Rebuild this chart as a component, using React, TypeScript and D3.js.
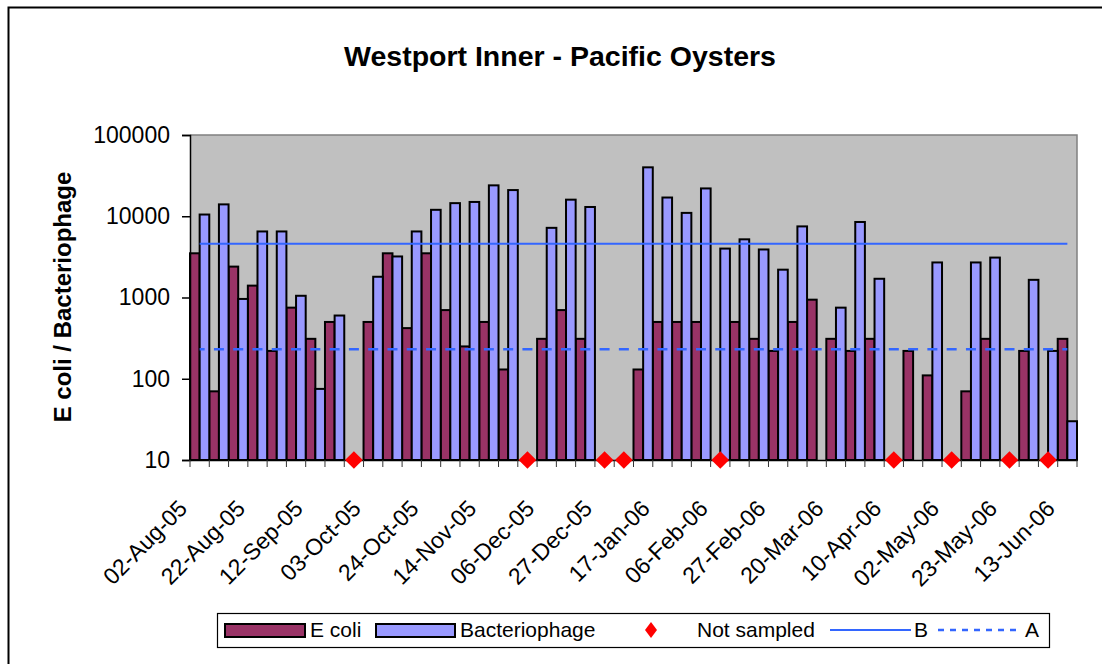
import React, { useEffect, useRef } from 'react';
import * as d3 from 'd3';

const dates = [
  '02-Aug-05', '08-Aug-05', '15-Aug-05', '22-Aug-05', '29-Aug-05', '05-Sep-05', '12-Sep-05', '19-Sep-05',
  '26-Sep-05', '03-Oct-05', '10-Oct-05', '17-Oct-05', '24-Oct-05', '31-Oct-05', '07-Nov-05', '14-Nov-05',
  '21-Nov-05', '28-Nov-05', '06-Dec-05', '13-Dec-05', '20-Dec-05', '27-Dec-05', '03-Jan-06', '10-Jan-06',
  '17-Jan-06', '24-Jan-06', '31-Jan-06', '06-Feb-06', '13-Feb-06', '20-Feb-06', '27-Feb-06', '06-Mar-06',
  '13-Mar-06', '20-Mar-06', '27-Mar-06', '03-Apr-06', '10-Apr-06', '18-Apr-06', '25-Apr-06', '02-May-06',
  '09-May-06', '16-May-06', '23-May-06', '30-May-06', '06-Jun-06', '13-Jun-06'
];

// null = no value
const eColi = [
  3500, 70, 2400, 1400, 220, 750, 310, 500, null, 500, 3500, 420, 3500, 700, 250, 500,
  130, null, 310, 700, 310, null, null, 130, 500, 500, 500, null, 500, 310, 220, 500,
  940, 310, 220, 310, null, 220, 110, null, 70, 310, null, 220, null, 310
];
const bacteriophage = [
  10500, 14000, 960, 6500, 6500, 1050, 75, 600, null, 1800, 3200, 6500, 12000, 14500, 15000, 24000,
  21000, null, 7200, 16000, 13000, null, null, 40000, 17000, 11000, 22000, 4000, 5200, 3900, 2200, 7500,
  null, 750, 8500, 1700, null, null, 2700, null, 2700, 3100, null, 1650, 220, 30
];
const notSampled = [
  '26-Sep-05', '28-Nov-05', '27-Dec-05', '03-Jan-06', '06-Feb-06', '10-Apr-06', '02-May-06', '23-May-06', '06-Jun-06'
];
const limitB = 4600;
const limitA = 230;
const yTicks = [10, 100, 1000, 10000, 100000];

const FONT = '"Liberation Sans", Arial, sans-serif';

const App = () => {
  const svgRef = useRef<SVGSVGElement>(null);
  const totalWidth = 1102;
  const totalHeight = 664;
  const plot = { left: 190, top: 135, right: 1077, bottom: 460 };

  useEffect(() => {
    const svg = d3.select(svgRef.current);
    svg.selectAll('*').remove();

    // outer chart border (runs off the right/bottom edge)
    svg.append('path')
      .attr('d', `M8.5,${totalHeight + 5} L8.5,7.5 L${totalWidth + 5},7.5`)
      .attr('fill', 'none')
      .attr('stroke', '#000')
      .attr('stroke-width', 2);

    svg.append('text')
      .attr('x', 560)
      .attr('y', 66)
      .attr('text-anchor', 'middle')
      .style('font-family', FONT)
      .style('font-weight', 'bold')
      .style('font-size', '28.5px')
      .text('Westport Inner - Pacific Oysters');

    const x = d3.scaleBand()
      .domain(dates)
      .range([plot.left, plot.right])
      .padding(0);
    const half = x.bandwidth() / 2;

    const y = d3.scaleLog()
      .domain([10, 100000])
      .range([plot.bottom, plot.top]);

    // plot area
    svg.append('rect')
      .attr('x', plot.left)
      .attr('y', plot.top)
      .attr('width', plot.right - plot.left)
      .attr('height', plot.bottom - plot.top)
      .attr('fill', '#c0c0c0');
    svg.append('path')
      .attr('d', `M${plot.left},${plot.top} L${plot.right},${plot.top} L${plot.right},${plot.bottom}`)
      .attr('fill', 'none')
      .attr('stroke', '#808080')
      .attr('stroke-width', 1.5);

    // bars
    const barData = dates.map((d, i) => ({ date: d, ecoli: eColi[i], phage: bacteriophage[i] }));
    const bars = svg.append('g');
    bars.selectAll('rect.ecoli')
      .data(barData.filter(d => d.ecoli != null))
      .enter().append('rect')
        .attr('class', 'ecoli')
        .attr('x', (d: any) => x(d.date) as number)
        .attr('y', (d: any) => y(d.ecoli))
        .attr('width', half)
        .attr('height', (d: any) => plot.bottom - y(d.ecoli))
        .attr('fill', '#993366')
        .attr('stroke', '#000')
        .attr('stroke-width', 2);
    bars.selectAll('rect.phage')
      .data(barData.filter(d => d.phage != null))
      .enter().append('rect')
        .attr('class', 'phage')
        .attr('x', (d: any) => (x(d.date) as number) + half)
        .attr('y', (d: any) => y(d.phage))
        .attr('width', half)
        .attr('height', (d: any) => plot.bottom - y(d.phage))
        .attr('fill', '#9999ff')
        .attr('stroke', '#000')
        .attr('stroke-width', 2);

    // limit lines B (solid) and A (dashed)
    const first = (x(dates[0]) as number) + half;
    const last = (x(dates[dates.length - 1]) as number) + half;
    svg.append('line')
      .attr('x1', first).attr('x2', last)
      .attr('y1', y(limitB)).attr('y2', y(limitB))
      .attr('stroke', '#3366ff')
      .attr('stroke-width', 2);
    svg.append('line')
      .attr('x1', first).attr('x2', last)
      .attr('y1', y(limitA)).attr('y2', y(limitA))
      .attr('stroke', '#3366ff')
      .attr('stroke-width', 2.5)
      .attr('stroke-dasharray', `10 ${x.bandwidth() - 10}`)
      .attr('stroke-dashoffset', 5);

    // y axis
    const yAxis = svg.append('g')
      .attr('transform', `translate(${plot.left},0)`)
      .call(d3.axisLeft(y).tickValues(yTicks).tickFormat(d3.format('d') as any).tickSize(8).tickPadding(12));
    yAxis.select('.domain').attr('stroke', '#000').attr('stroke-width', 1.5);
    yAxis.selectAll('.tick line').attr('stroke', '#000').attr('stroke-width', 1.5);
    yAxis.selectAll('.tick text')
      .style('font-family', FONT)
      .style('font-size', '23px')
      .attr('fill', '#000');

    // x axis
    const xAxis = svg.append('g')
      .attr('transform', `translate(0,${plot.bottom})`)
      .call(d3.axisBottom(x).tickValues([]).tickSizeOuter(0));
    xAxis.select('.domain').attr('stroke', '#000').attr('stroke-width', 1.5);
    xAxis.selectAll('line.cat')
      .data(d3.range(dates.length + 1))
      .enter().append('line')
        .attr('class', 'cat')
        .attr('x1', (i: number) => plot.left + i * x.bandwidth())
        .attr('x2', (i: number) => plot.left + i * x.bandwidth())
        .attr('y1', 0).attr('y2', 7)
        .attr('stroke', '#333')
        .attr('stroke-width', 1);
    xAxis.selectAll('text.lbl')
      .data(dates.filter((d, i) => i % 3 === 0))
      .enter().append('text')
        .attr('class', 'lbl')
        .attr('text-anchor', 'end')
        .attr('fill', '#000')
        .attr('transform', (d: string) => `translate(${(x(d) as number) + half - 11},${50}) rotate(-45)`)
        .style('font-family', FONT)
        .style('font-size', '23px')
        .text((d: string) => d);

    // not sampled markers
    svg.append('g')
      .selectAll('path')
      .data(notSampled)
      .enter().append('path')
        .attr('d', d3.symbol().type(d3.symbolDiamond2).size(200) as any)
        .attr('transform', (d: string) => `translate(${(x(d) as number) + half},${plot.bottom})`)
        .attr('fill', '#ff0000');

    // y label
    svg.append('text')
      .attr('transform', `translate(71,${297}) rotate(-90)`)
      .attr('text-anchor', 'middle')
      .style('font-family', FONT)
      .style('font-weight', 'bold')
      .style('font-size', '24px')
      .text('E coli / Bacteriophage');

    // legend
    const lg = svg.append('g');
    lg.append('rect')
      .attr('x', 217.5).attr('y', 613.5)
      .attr('width', 832).attr('height', 34)
      .attr('fill', '#fff')
      .attr('stroke', '#000')
      .attr('stroke-width', 1.2);
    const ly = 630;
    lg.append('rect').attr('x', 225).attr('y', 624).attr('width', 80).attr('height', 13)
      .attr('fill', '#993366').attr('stroke', '#000').attr('stroke-width', 2);
    lg.append('rect').attr('x', 376).attr('y', 624).attr('width', 79).attr('height', 13)
      .attr('fill', '#9999ff').attr('stroke', '#000').attr('stroke-width', 2);
    lg.append('path')
      .attr('d', `M651,${ly - 8} L657,${ly} L651,${ly + 8} L645,${ly} Z`)
      .attr('fill', '#ff0000');
    lg.append('line').attr('x1', 830).attr('x2', 911).attr('y1', ly).attr('y2', ly)
      .attr('stroke', '#3366ff').attr('stroke-width', 2);
    lg.append('line').attr('x1', 938).attr('x2', 1022).attr('y1', ly).attr('y2', ly)
      .attr('stroke', '#3366ff').attr('stroke-width', 2.5).attr('stroke-dasharray', '6 6');
    const legendText = [
      { label: 'E coli', x: 310 },
      { label: 'Bacteriophage', x: 460 },
      { label: 'Not sampled', x: 697 },
      { label: 'B', x: 914 },
      { label: 'A', x: 1025 }
    ];
    lg.selectAll('text')
      .data(legendText)
      .enter().append('text')
        .attr('x', (d: any) => d.x)
        .attr('y', ly)
        .attr('dy', '0.35em')
        .style('font-family', FONT)
        .style('font-size', '21px')
        .text((d: any) => d.label);
  }, []);

  return (
    <svg
      ref={svgRef}
      width={totalWidth}
      height={totalHeight}
      style={{ position: 'absolute', left: 0, top: 0, background: '#fff' }}
    />
  );
};

export default App;
